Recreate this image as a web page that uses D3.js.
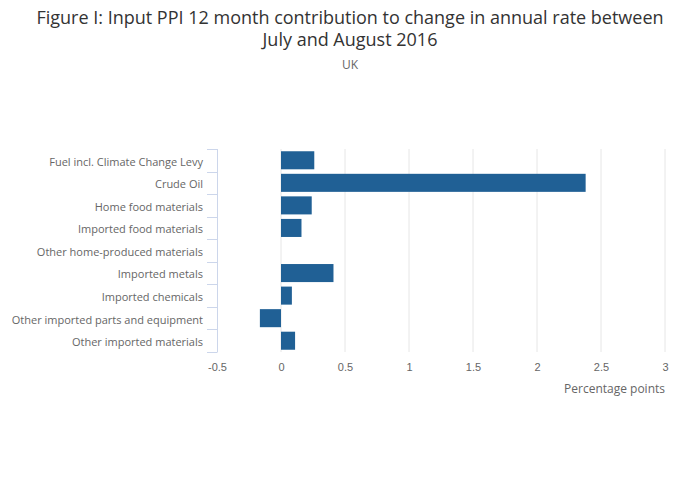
<!DOCTYPE html>
<html>
<head>
<meta charset="utf-8">
<script src="https://cdn.jsdelivr.net/npm/d3@7"></script>
<style>
  body { margin: 0; background: #fff; }
  svg { font-family: 'Open Sans', sans-serif; }
  .grid line { stroke: #e6e6e6; }
  .tick text { fill: #666; font-size: 11px; }
</style>
</head>
<body>
<svg id="chart" width="700" height="502"></svg>
<script>
const categories = [
  'Fuel incl. Climate Change Levy',
  'Crude Oil',
  'Home food materials',
  'Imported food materials',
  'Other home-produced materials',
  'Imported metals',
  'Imported chemicals',
  'Other imported parts and equipment',
  'Other imported materials'
];
const values = [0.26, 2.38, 0.24, 0.16, 0, 0.41, 0.085, -0.165, 0.11];
const xTicks = [-0.5, 0, 0.5, 1, 1.5, 2, 2.5, 3];

const margin = { top: 149, left: 217, right: 35, bottom: 150 };
const width = 700 - margin.left - margin.right;
const height = 502 - margin.top - margin.bottom;

const svg = d3.select('#chart');

svg.append('text')
  .attr('x', 350).attr('y', 24)
  .attr('text-anchor', 'middle')
  .attr('fill', '#333')
  .style('font-size', '18px')
  .text('Figure I: Input PPI 12 month contribution to change in annual rate between');
svg.append('text')
  .attr('x', 350).attr('y', 46)
  .attr('text-anchor', 'middle')
  .attr('fill', '#333')
  .style('font-size', '18px')
  .text('July and August 2016');
svg.append('text')
  .attr('x', 350).attr('y', 69)
  .attr('text-anchor', 'middle')
  .attr('fill', '#666')
  .style('font-size', '12px')
  .text('UK');

const g = svg.append('g').attr('transform', `translate(${margin.left},${margin.top})`);

const x = d3.scaleLinear().domain([-0.5, 3]).range([0, width]);
const y = d3.scaleBand().domain(categories).range([0, height]).paddingInner(0.2).paddingOuter(0.1);

// gridlines
g.append('g')
  .attr('class', 'grid')
  .selectAll('line')
  .data(xTicks.slice(1))
  .join('line')
  .attr('x1', d => x(d)).attr('x2', d => x(d))
  .attr('y1', 0).attr('y2', height);

// x axis labels
const xAxis = g.append('g')
  .attr('transform', `translate(0,${height})`)
  .call(d3.axisBottom(x).tickValues(xTicks).tickSize(0).tickPadding(11).tickFormat(d => String(d)));
xAxis.select('.domain').remove();

svg.append('text')
  .attr('x', margin.left + width).attr('y', 393)
  .attr('text-anchor', 'end')
  .attr('fill', '#666')
  .style('font-size', '12px')
  .text('Percentage points');

// bars
g.selectAll('rect.bar')
  .data(categories)
  .join('rect')
  .attr('class', 'bar')
  .attr('x', (d, i) => x(Math.min(0, values[i])))
  .attr('width', (d, i) => Math.abs(x(values[i]) - x(0)))
  .attr('y', d => y(d))
  .attr('height', y.bandwidth())
  .attr('fill', '#206095');

// y axis
const yAxis = g.append('g');
yAxis.append('line')
  .attr('x1', 0.5).attr('x2', 0.5).attr('y1', 0).attr('y2', height)
  .attr('stroke', '#ccd6eb');
yAxis.selectAll('line.tk')
  .data(d3.range(categories.length + 1))
  .join('line')
  .attr('class', 'tk')
  .attr('x1', -10).attr('x2', 0.5)
  .attr('y1', i => Math.round(i * height / categories.length) + 0.5)
  .attr('y2', i => Math.round(i * height / categories.length) + 0.5)
  .attr('stroke', '#ccd6eb');
yAxis.selectAll('text')
  .data(categories)
  .join('text')
  .attr('x', -14)
  .attr('y', d => y(d) + y.bandwidth() / 2 + 1.5)
  .attr('dy', '0.35em')
  .attr('text-anchor', 'end')
  .attr('fill', '#666')
  .style('font-size', '11px')
  .text(d => d);
</script>
</body>
</html>
